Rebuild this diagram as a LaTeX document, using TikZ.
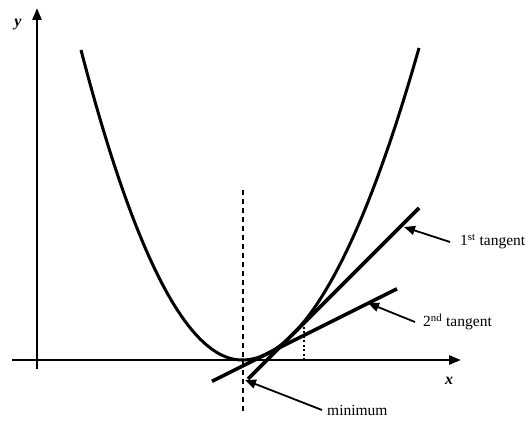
\documentclass[tikz,border=0pt]{standalone}
\usepackage{fontspec}
\setmainfont{Liberation Serif}
\usetikzlibrary{arrows.meta}
\begin{document}
\begin{tikzpicture}[x=1pt,y=-1pt,
  axis/.style={line width=2.6pt,-{Triangle[length=12pt,width=9pt]}},
  curve/.style={line width=3pt,line join=round},
  tangentline/.style={line width=3.6pt},
  ann/.style={line width=1.8pt,-{Triangle[length=11pt,width=9pt]}},
  lab/.style={inner sep=0pt,font=\fontsize{15.5}{17}\selectfont},
  axlab/.style={inner sep=0pt,font=\fontsize{16}{18}\selectfont\bfseries\itshape}]
\useasboundingbox (0,0) rectangle (530,425);
% axes
\coordinate (xs) at (12,360);
\coordinate (xe) at (461,360);
\coordinate (ys) at (37,369);
\coordinate (ye) at (37,8);
\draw[axis] (xs) -- (xe);
\draw[axis] (ys) -- (ye);
\node[axlab] (ylab) at (18,25) {y};
\node[axlab] (xlab) at (449,381) {x};
% curve
\draw[curve] plot[domain=81:242,samples=80] (\x,{360-1.196*((\x-242)/10)^2})
  -- plot[domain=242:419,samples=80] (\x,{360-0.996*((\x-242)/10)^2});
% dashed vertical through minimum
\coordinate (d1) at (243,190);
\coordinate (d2) at (243,413);
\draw[line width=1.3pt,dash pattern=on 5pt off 4pt] (d1) -- (d2);
% dotted vertical
\coordinate (p1) at (304,322);
\coordinate (p2) at (304,360);
\draw[line width=2pt,dash pattern=on 2pt off 2.5pt] (p1) -- (p2);
% tangents
\coordinate (t1a) at (248,379);
\coordinate (t1b) at (419,208);
\coordinate (t2a) at (212,381.3);
\coordinate (t2b) at (397,288.8);
\draw[tangentline] (t1a) -- (t1b);
\draw[tangentline] (t2a) -- (t2b);
% labels
\node[lab,anchor=west] (l1) at (460,242) {1\textsuperscript{st} tangent};
\node[lab,anchor=west] (l2) at (423,322) {2\textsuperscript{nd} tangent};
\node[lab,anchor=west] (l3) at (327,410) {minimum};
\coordinate (a1) at (404,227);
\coordinate (a2) at (368,303);
\coordinate (a3) at (245,380);
\draw[ann] ([xshift=-10pt]l1.west) -- (a1);
\draw[ann] ([xshift=-8pt]l2.west) -- (a2);
\draw[ann] ([xshift=-5pt]l3.west) -- (a3);
\end{tikzpicture}
\end{document}
